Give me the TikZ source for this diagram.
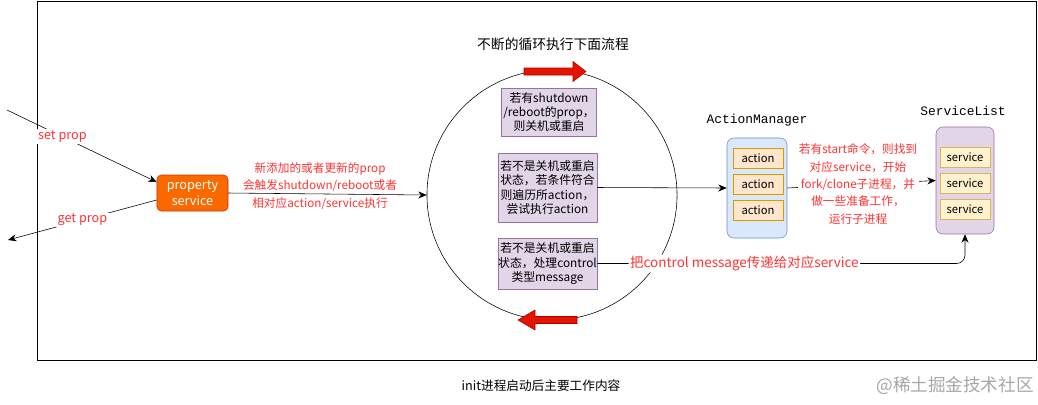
\documentclass[tikz,border=0pt]{standalone}
\usepackage{fontspec}
\setmainfont{Noto Sans CJK SC}
\newfontfamily\monofont{Liberation Mono}
\usetikzlibrary{arrows.meta}

\definecolor{notered}{HTML}{FF3333}
\definecolor{loopfill}{HTML}{E1D5E7}
\definecolor{loopdraw}{HTML}{9673A6}
\definecolor{propfill}{HTML}{FA6800}
\definecolor{propdraw}{HTML}{C73500}
\definecolor{amfill}{HTML}{DAE8FC}
\definecolor{amdraw}{HTML}{6C8EBF}
\definecolor{actfill}{HTML}{FFE6CC}
\definecolor{actdraw}{HTML}{D79B00}
\definecolor{svcfill}{HTML}{FFF2CC}
\definecolor{svcdraw}{HTML}{D6B656}
\definecolor{bigred}{HTML}{E51400}
\definecolor{bigreddraw}{HTML}{B20000}

\begin{document}
\begin{tikzpicture}[x=0.025cm, y=-0.025cm, >={Stealth[length=6pt, width=5pt]},
  loopbox/.style={draw=loopdraw, fill=loopfill, align=center, inner sep=0pt,
    font=\fontsize{8.4}{10.1}\selectfont},
  itembox/.style={minimum width=1.25cm, minimum height=0.5cm, inner sep=0pt,
    font=\fontsize{8}{9.6}\selectfont},
  redlabel/.style={text=notered, align=center, font=\fontsize{8.3}{12.4}\selectfont},
  listname/.style={font=\monofont\fontsize{9.2}{11}\selectfont}]

\useasboundingbox (0,0) rectangle (1038,404);

% --- Frame ---
\draw[line width=0.6pt] (37,1) rectangle (1036,360);

% --- Title and caption ---
\node[font=\fontsize{9.8}{12}\selectfont] (title) at (553,44) {不断的循环执行下面流程};
\node[font=\fontsize{9}{11}\selectfont] (caption) at (541,386) {init进程启动后主要工作内容};
\node[text=black!35, font=\fontsize{12.5}{14}\selectfont] (mark) at (955,386) {@稀土掘金技术社区};

% --- Main loop ---
\node[draw, circle, minimum size=6.25cm, inner sep=0pt] (loop) at (552,195) {};
\filldraw[fill=bigred, draw=bigreddraw]
  (524,68) -- (573,68) -- (573,61.5) -- (586,71.5) -- (573,81.5) -- (573,75) -- (524,75) -- cycle;
\filldraw[fill=bigred, draw=bigreddraw]
  (577,316.5) -- (535,316.5) -- (535,310) -- (518,320) -- (535,330) -- (535,323.5) -- (577,323.5) -- cycle;

\node[loopbox, minimum width=2.375cm, minimum height=1.2cm] (shut) at (549,112)
  {若有shutdown\\/reboot的prop，\\则关机或重启};
\node[loopbox, minimum width=2.475cm, minimum height=1.725cm] (exec) at (547.5,187.5)
  {若不是关机或重启\\状态，若条件符合\\则遍历所action，\\尝试执行action};
\node[loopbox, minimum width=2.475cm, minimum height=1.275cm] (ctrl) at (547.5,263.5)
  {若不是关机或重启\\状态，处理control\\类型message};

% --- Property service ---
\node[draw=propdraw, fill=propfill, rounded corners=3pt, text=white, align=center,
  minimum width=1.775cm, minimum height=0.9cm, inner sep=0pt,
  font=\fontsize{9}{11.5}\selectfont] (prop) at (192.5,193) {property\\service};
\coordinate (setin) at (7,110);
\coordinate (getout) at (8,240);

\draw[->] (setin) -- (prop.163)
  node[pos=0.37, fill=white, text=notered, inner sep=1pt, font=\fontsize{9}{11}\selectfont] {set prop};
\draw[->] (prop.191) -- (getout)
  node[pos=0.5, fill=white, text=notered, inner sep=1pt, font=\fontsize{9}{11}\selectfont] {get prop};

\draw[->] (prop.east) -- (loop.west);
\node[redlabel] (proplabel) at (320,186)
  {新添加的或者更新的prop\\会触发shutdown/reboot或者\\相对应action/service执行};

% --- ActionManager ---
\node[listname] (amname) at (757,120) {ActionManager};
\node[draw=amdraw, fill=amfill, rounded corners=5pt, minimum width=1.5cm,
  minimum height=2.5cm] (amgr) at (757,188) {};
\foreach \y/\n in {158/1, 184/2, 210.5/3} {
  \node[itembox, draw=actdraw, fill=actfill] (act\n) at (758,\y) {action};
}

% --- ServiceList ---
\node[listname] (slname) at (963,111) {ServiceList};
\node[draw=loopdraw, fill=loopfill, rounded corners=5pt, minimum width=1.45cm,
  minimum height=2.675cm] (slist) at (965,180.5) {};
\foreach \y/\n in {157/1, 183/2, 209/3} {
  \node[itembox, draw=svcdraw, fill=svcfill] (svc\n) at (965,\y) {service};
}

% --- Connectors ---
\draw[->] (exec.east) -- (amgr.west);
\draw[->] (amgr.east) -- (slist.west);
\node[redlabel, fill=white, inner sep=1pt] (startlabel) at (858,184)
  {若有start命令，则找到\\对应service，开始\\fork/clone子进程，并\\做一些准备工作，\\运行子进程};
\draw[->, rounded corners=6pt] (ctrl.east) -| (slist.south)
  node[pos=0.2, fill=white, text=notered, inner sep=1pt, font=\fontsize{9.6}{11}\selectfont]
  {把control message传递给对应service};

\end{tikzpicture}
\end{document}
